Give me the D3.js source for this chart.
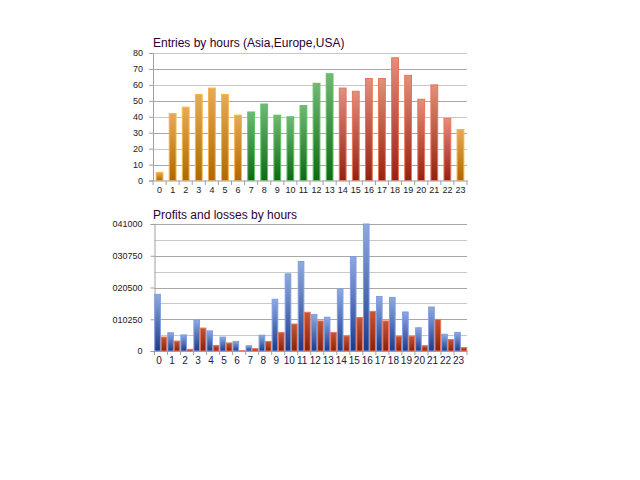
<!DOCTYPE html>
<html><head><meta charset="utf-8">
<script src="https://cdn.jsdelivr.net/npm/d3@7"></script>
<style>body{margin:0;background:#fff}svg{display:block}</style>
</head><body>
<svg id="c" width="640" height="480"></svg>
<script>
const hours = d3.range(24).map(String);
const entries = [5,42,46,54,58,54,41,43,48,41,40,47,61,67,58,56,64,64,77,66,51,60,39,32];
const regions = ["asia","asia","asia","asia","asia","asia","asia","europe","europe","europe","europe","europe","europe","europe","usa","usa","usa","usa","usa","usa","usa","usa","usa","asia"];
const profits = [18300,5900,5200,10000,6500,4500,3100,1700,5100,16700,24900,28900,11800,10900,20000,30500,41000,17600,17300,12600,7500,14200,5400,6000];
const losses = [4500,3200,540,7400,1800,2600,100,750,3100,6000,8700,12500,9700,6000,4900,10800,12800,9700,4800,4800,1700,10200,3700,1100];
const entryTicks = [0,10,20,30,40,50,60,70,80];
const plTicks = [0,10250,20500,30750,41000];
const plTickLabels = ["0","010250","020500","030750","041000"];

const svg = d3.select("#c");
const defs = svg.append("defs");
function grad(id, top, bottom){
  const g = defs.append("linearGradient").attr("id", id).attr("x1",0).attr("y1",0).attr("x2",0).attr("y2",1);
  g.append("stop").attr("offset","0%").attr("stop-color",top);
  g.append("stop").attr("offset","100%").attr("stop-color",bottom);
}
grad("g-asia","#e6aa58","#b06800");
grad("g-europe","#72b874","#0c6a12");
grad("g-usa","#e2907c","#962010");
grad("g-profit","#8eaae2","#1c3a8a");
grad("g-loss","#c45634","#882008");
const strokes = {asia:"#f8b448", europe:"#5ec462", usa:"#ea7458"};
const font = "Liberation Sans, Arial, sans-serif";

// ---- Chart 1
const x1 = d3.scaleBand().domain(hours).range([153,467]).paddingInner(0.48).paddingOuter(0.24);
const y1 = d3.scaleLinear().domain([0,80]).range([180.5,53]);
const c1 = svg.append("g");
c1.selectAll(".grid").data(entryTicks.slice(1)).join("line")
  .attr("x1",153).attr("x2",467).attr("y1",d=>Math.round(y1(d))+0.5).attr("y2",d=>Math.round(y1(d))+0.5)
  .attr("stroke",(d,i)=> i%2? "#c8c8c8":"#a8a8a8").attr("stroke-width",1.2);
c1.append("g").attr("transform","translate(153,0)")
  .call(d3.axisLeft(y1).tickValues(entryTicks).tickSize(4).tickPadding(6))
  .call(g=>{g.select(".domain").attr("stroke","#a0a0a0");g.selectAll(".tick line").attr("stroke","#a0a0a0");
    g.selectAll("text").attr("font-family",font).attr("font-size",9).attr("fill","#202020");});
c1.selectAll(".bar").data(entries).join("rect")
  .attr("x",(d,i)=>x1(hours[i])).attr("width",x1.bandwidth())
  .attr("y",d=>y1(d)).attr("height",d=>y1(0)-y1(d))
  .attr("fill",(d,i)=>`url(#g-${regions[i]})`).attr("stroke",(d,i)=>strokes[regions[i]]).attr("stroke-width",1);
const xb1 = d3.scaleBand().domain(hours).range([153,467]);
c1.append("g").attr("transform","translate(0,180.5)")
  .call(d3.axisBottom(xb1).tickSize(0).tickPadding(6))
  .call(g=>{g.select(".domain").attr("stroke","#a0a0a0");
    g.selectAll("text").attr("font-family",font).attr("font-size",9).attr("fill","#202020");});
c1.selectAll(".tk").data(d3.range(25)).join("line")
  .attr("x1",i=>153+i*xb1.step()).attr("x2",i=>153+i*xb1.step()).attr("y1",180.5).attr("y2",185).attr("stroke","#a0a0a0");
c1.append("text").attr("x",153).attr("y",47).attr("font-family",font).attr("font-size",12).attr("fill","#300030")
  .text("Entries by hours (Asia,Europe,USA)");

// ---- Chart 2
const x2 = d3.scaleBand().domain(hours).range([154.5,467]).paddingInner(0.08).paddingOuter(0.02);
const xs = d3.scaleBand().domain(["p","l"]).range([0,x2.bandwidth()]).paddingInner(0.12);
const y2 = d3.scaleLinear().domain([0,41000]).range([351,224]);
const c2 = svg.append("g");
const gridVals = d3.range(1,9).map(i=>i*5125);
c2.selectAll(".grid").data(gridVals).join("line")
  .attr("x1",154.5).attr("x2",467).attr("y1",d=>Math.round(y2(d))+0.5).attr("y2",d=>Math.round(y2(d))+0.5)
  .attr("stroke",(d,i)=> i%2? "#a8a8a8":"#c8c8c8").attr("stroke-width",1.2);
c2.append("g").attr("transform","translate(154.5,0)")
  .call(d3.axisLeft(y2).tickValues(plTicks).tickFormat((d,i)=>plTickLabels[i]).tickSize(4).tickPadding(8))
  .call(g=>{g.select(".domain").attr("stroke","#a0a0a0");g.selectAll(".tick line").attr("stroke","#a0a0a0");
    g.selectAll("text").attr("font-family",font).attr("font-size",9).attr("fill","#202020");});
const grp = c2.selectAll(".grp").data(hours).join("g").attr("transform",h=>`translate(${x2(h)},0)`);
grp.append("rect").attr("x",xs("p")).attr("width",xs.bandwidth())
  .attr("y",(h,i)=>y2(profits[i])).attr("height",(h,i)=>y2(0)-y2(profits[i]))
  .attr("fill","url(#g-profit)").attr("stroke","#7e9ee0").attr("stroke-width",1);
grp.append("rect").attr("x",xs("l")).attr("width",xs.bandwidth())
  .attr("y",(h,i)=>y2(losses[i])).attr("height",(h,i)=>y2(0)-y2(losses[i]))
  .attr("fill","url(#g-loss)").attr("stroke","#ea7458").attr("stroke-width",1);
const xb2 = d3.scaleBand().domain(hours).range([154.5,467]);
c2.append("g").attr("transform","translate(0,351)")
  .call(d3.axisBottom(xb2).tickSize(0).tickPadding(6))
  .call(g=>{g.select(".domain").attr("stroke","#a0a0a0");
    g.selectAll("text").attr("font-family",font).attr("font-size",10).attr("fill","#202040").attr("dx",-2);});
c2.selectAll(".tk").data(d3.range(25)).join("line")
  .attr("x1",i=>154.5+i*xb2.step()).attr("x2",i=>154.5+i*xb2.step()).attr("y1",351).attr("y2",355).attr("stroke","#a0a0a0");
c2.append("text").attr("x",153).attr("y",219).attr("font-family",font).attr("font-size",12).attr("fill","#300030")
  .text("Profits and losses by hours");
</script>
</body></html>
